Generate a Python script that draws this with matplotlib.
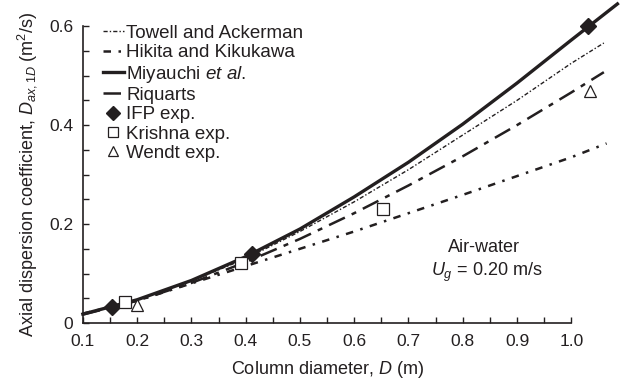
import matplotlib
matplotlib.use("Agg")
import matplotlib.pyplot as plt
from matplotlib.ticker import MultipleLocator, FormatStrFormatter

plt.rcParams['font.family'] = ['Liberation Sans', 'DejaVu Sans']
plt.rcParams['mathtext.fontset'] = 'custom'
plt.rcParams['mathtext.rm'] = 'Liberation Sans'
plt.rcParams['mathtext.it'] = 'Liberation Sans:italic'

ink = '#231f20'

# correlations, column diameter D (m) vs D_ax (m2/s)
d_towell = [0.1, 0.2, 0.3, 0.4, 0.5, 0.6, 0.7, 0.8, 0.9, 1.0, 1.06]
towell = [0.018, 0.047, 0.085, 0.130, 0.185, 0.245, 0.310, 0.380, 0.450, 0.525, 0.566]

d_hikita = [0.1, 0.2, 0.3, 0.4, 0.5, 0.6, 0.7, 0.8, 0.9, 1.0, 1.065]
hikita = [0.019, 0.045, 0.080, 0.115, 0.150, 0.185, 0.222, 0.259, 0.297, 0.335, 0.363]

d_miyauchi = [0.1, 0.2, 0.3, 0.4, 0.5, 0.6, 0.7, 0.8, 0.9, 1.0, 1.085]
miyauchi = [0.018, 0.047, 0.086, 0.134, 0.190, 0.255, 0.325, 0.402, 0.485, 0.572, 0.645]

d_riquarts = [0.1, 0.2, 0.3, 0.4, 0.5, 0.6, 0.7, 0.8, 0.9, 1.0, 1.06]
riquarts = [0.017, 0.045, 0.081, 0.123, 0.170, 0.222, 0.278, 0.337, 0.400, 0.466, 0.507]

# experiments
ifp_d = [0.154, 0.412, 1.03]
ifp = [0.032, 0.140, 0.601]
krishna_d = [0.178, 0.392, 0.653]
krishna = [0.043, 0.122, 0.231]
wendt_d = [0.20, 1.035]
wendt = [0.036, 0.468]

fig = plt.figure(figsize=(6.23, 3.85), dpi=100)
ax = fig.add_axes([0.133, 0.161, 0.784, 0.771])

ax.plot(d_towell, towell, color=ink, lw=1.0, dashes=(3, 1.5, 1, 1.5), clip_on=False,
        label='Towell and Ackerman')
ax.plot(d_hikita, hikita, color=ink, lw=1.8, dashes=(3, 3, 1, 3), clip_on=False,
        label='Hikita and Kikukawa')
ax.plot(d_miyauchi, miyauchi, color=ink, lw=2.4, clip_on=False,
        label='Miyauchi $\\it{et\\ al.}$')
ax.plot(d_riquarts, riquarts, color=ink, lw=1.8, dashes=(7, 3, 2, 3), clip_on=False,
        label='Riquarts')
ax.plot(ifp_d, ifp, 'D', color=ink, ms=8, clip_on=False, label='IFP exp.')
ax.plot(krishna_d, krishna, 's', mfc='white', mec=ink, mew=0.9, ms=8, clip_on=False,
        label='Krishna exp.')
ax.plot(wendt_d, wendt, '^', mfc='white', mec=ink, mew=0.9, ms=9, clip_on=False,
        label='Wendt exp.')

ax.set_xlim(0.1, 1.0)
ax.set_ylim(0, 0.6)
ax.xaxis.set_major_locator(MultipleLocator(0.1))
ax.xaxis.set_minor_locator(MultipleLocator(0.05))
ax.yaxis.set_major_locator(MultipleLocator(0.2))
ax.yaxis.set_minor_locator(MultipleLocator(0.05))
ax.xaxis.set_major_formatter(FormatStrFormatter('%.1f'))
ax.yaxis.set_major_formatter(lambda v, p: '0' if v == 0 else '%.1f' % v)
ax.tick_params(which='both', direction='in', length=4, width=1, colors=ink,
               labelsize=12.5, labelcolor=ink)
ax.tick_params(axis='x', pad=8)
ax.tick_params(axis='y', pad=7)
for s in ['top', 'right']:
    ax.spines[s].set_visible(False)
for s in ['left', 'bottom']:
    ax.spines[s].set_color(ink)
    ax.spines[s].set_linewidth(1.2)

ax.set_xlabel('Column diameter, $\\it{D}$ (m)', fontsize=13, color=ink, labelpad=7)
ax.set_ylabel('Axial dispersion coefficient, $\\it{D}_{ax,1D}$ (m$^2$/s)', fontsize=13,
              color=ink, labelpad=7)

leg = ax.legend(loc='upper left', bbox_to_anchor=(0.025, 1.03), frameon=False,
                fontsize=13.5, handlelength=1.15, handletextpad=0.1, labelspacing=0.12,
                borderaxespad=0, markerscale=0.85)
for t in leg.get_texts():
    t.set_color(ink)

ax.text(0.84, 0.152, 'Air-water', fontsize=13, color=ink, ha='center', va='center')
ax.text(0.845, 0.103, '$\\it{U_g}$ = 0.20 m/s', fontsize=13, color=ink, ha='center',
        va='center')

fig.savefig('out.png', dpi=100)
